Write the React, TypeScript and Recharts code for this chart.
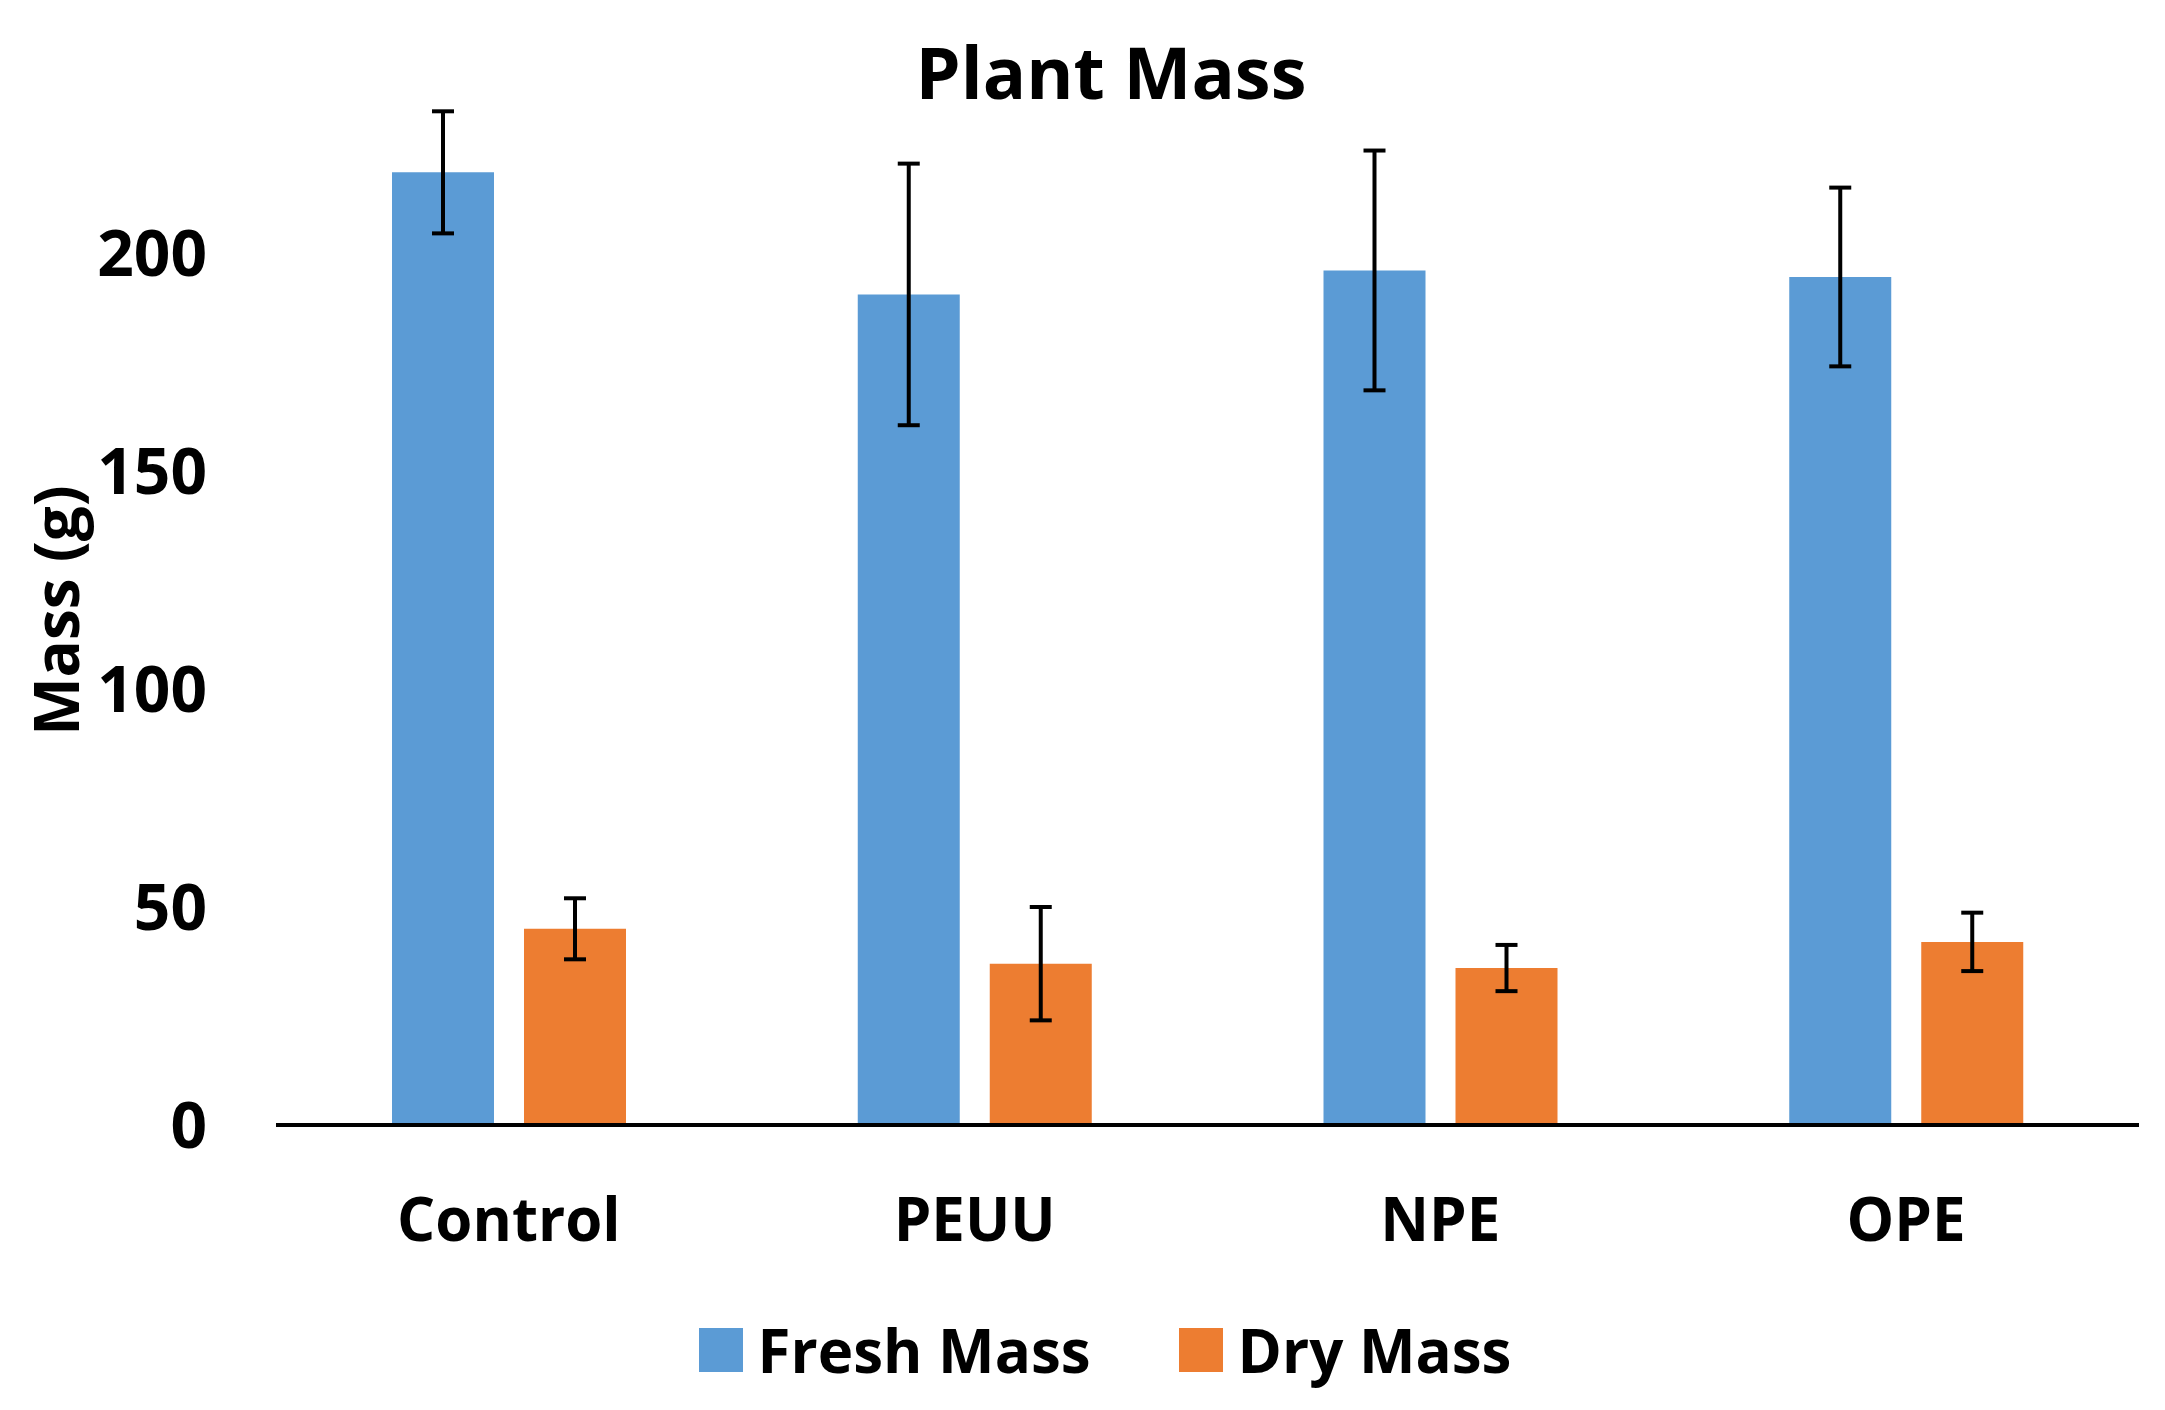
import React from 'react';
import { BarChart, Bar, XAxis, YAxis, ErrorBar, Legend } from 'recharts';

const categories = ['Control', 'PEUU', 'NPE', 'OPE'];
const freshMass = [218.5, 190.5, 196, 194.5];
const freshErr = [14, 30, 27.5, 20.5];
const dryMass = [45, 37, 36, 42];
const dryErr = [7, 13, 5.3, 6.7];
const yTicks = [0, 50, 100, 150, 200];
const seriesNames = ['Fresh Mass', 'Dry Mass'];

const data = categories.map((c, i) => ({
  name: c,
  fresh: freshMass[i],
  freshErr: freshErr[i],
  dry: dryMass[i],
  dryErr: dryErr[i],
}));

const FONT = '"Open Sans", "Noto Sans", sans-serif';
const W = 2150;
const H = 1394;

const renderLegend = (props: any) => {
  const payload = [...(props.payload || [])].sort(
    (a: any, b: any) => seriesNames.indexOf(a.value) - seriesNames.indexOf(b.value)
  );
  return (
    <div
      style={{
        display: 'flex',
        justifyContent: 'center',
        alignItems: 'center',
        height: 80,
        fontFamily: FONT,
        fontWeight: 700,
        fontSize: 60,
        lineHeight: 1,
        color: '#000',
        paddingLeft: 44,
      }}
    >
      {payload.map((entry: any, i: number) => (
        <div
          key={i}
          style={{ display: 'flex', alignItems: 'center', marginRight: i < payload.length - 1 ? 88 : 0 }}
        >
          <div style={{ width: 44, height: 44, background: entry.color, marginRight: 15 }} />
          <span>{entry.value}</span>
        </div>
      ))}
    </div>
  );
};

const YLabel = (props: any) => {
  const vb = props.viewBox || { x: 0, y: 0, width: 0, height: 0 };
  const cx = vb.x - 21;
  const cy = vb.y + vb.height * 0.528;
  return (
    <text
      x={cx}
      y={cy}
      transform={`rotate(-90, ${cx}, ${cy})`}
      textAnchor="middle"
      dominantBaseline="central"
      fontFamily={FONT}
      fontWeight={700}
      fontSize={62}
      fill="#000"
    >
      Mass (g)
    </text>
  );
};

export default function App() {
  return (
    <div style={{ position: 'relative', width: W, height: H, background: '#fff' }}>
      <BarChart
        width={W}
        height={H}
        data={data}
        margin={{ top: 27, right: 19, left: 68, bottom: 57 }}
        barGap={30}
      >
        <XAxis
          dataKey="name"
          axisLine={{ stroke: '#000', strokeWidth: 4 }}
          tickLine={false}
          tickSize={0}
          tickMargin={73}
          height={140}
          tick={{ fill: '#000', fontSize: 60, fontWeight: 700, fontFamily: FONT }}
        />
        <YAxis
          domain={[0, 250]}
          ticks={yTicks}
          axisLine={false}
          tickLine={false}
          tickSize={0}
          tickMargin={69}
          width={200}
          tick={{ fill: '#000', fontSize: 64, fontWeight: 700, fontFamily: FONT }}
          label={{ content: (p: any) => <YLabel {...p} /> }}
        />
        <Legend
          content={renderLegend}
          verticalAlign="bottom"
          wrapperStyle={{ left: 0, top: 1302, width: W, height: 80 }}
        />
        <Bar dataKey="fresh" name="Fresh Mass" fill="#5B9BD5" barSize={102} isAnimationActive={false}>
          <ErrorBar dataKey="freshErr" width={11} stroke="#000" strokeWidth={4} />
        </Bar>
        <Bar dataKey="dry" name="Dry Mass" fill="#ED7D31" barSize={102} isAnimationActive={false}>
          <ErrorBar dataKey="dryErr" width={11} stroke="#000" strokeWidth={4} />
        </Bar>
      </BarChart>
      <svg
        width={W}
        height={140}
        style={{ position: 'absolute', left: 0, top: 0, pointerEvents: 'none' }}
      >
        <text x={1103} y={91} textAnchor="middle" fontFamily={FONT} fontWeight={700} fontSize={72} fill="#000">
          Plant Mass
        </text>
      </svg>
    </div>
  );
}
